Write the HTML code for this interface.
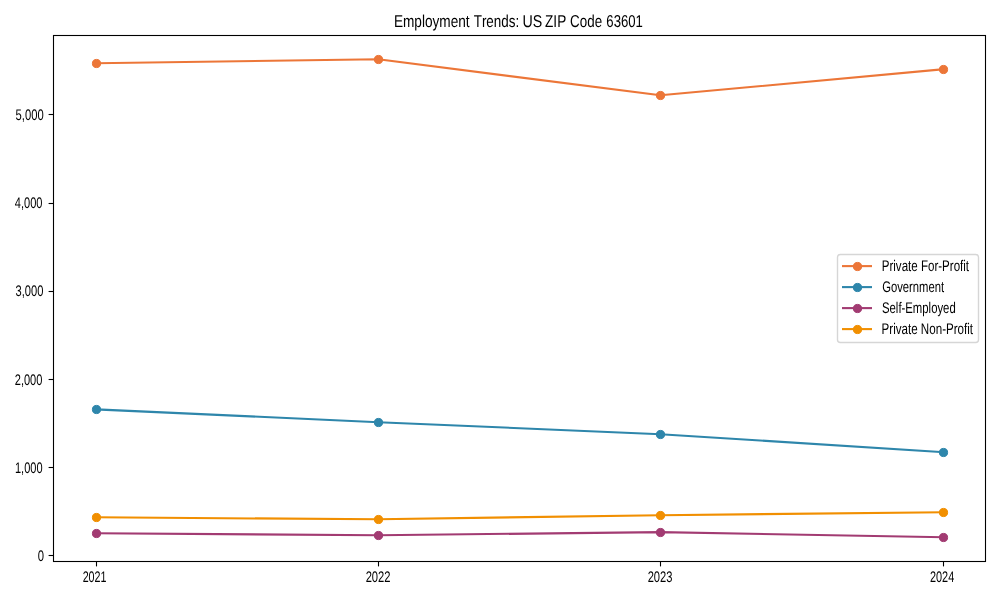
<!DOCTYPE html>
<html><head><meta charset="utf-8"><title>Employment Trends: US ZIP Code 63601</title>
<style>
html,body{margin:0;padding:0;background:#fff;width:1000px;height:600px;overflow:hidden}
svg{display:block;will-change:transform}
text{filter:grayscale(1)}
text{font-family:"Liberation Sans",Arial,sans-serif;font-kerning:none;text-rendering:geometricPrecision;white-space:pre}
</style></head><body>
<svg width="1000" height="600" viewBox="0 0 1000 600">
<rect x="0" y="0" width="1000" height="600" fill="#fff"/>
<text x="393.88" y="27.00" font-size="17.20" textLength="75.72" lengthAdjust="spacingAndGlyphs" fill="#000">Employment</text>
<text x="473.70" y="27.00" font-size="17.20" textLength="45.53" lengthAdjust="spacingAndGlyphs" fill="#000">Trends:</text>
<text x="522.40" y="27.00" font-size="17.20" textLength="19.75" lengthAdjust="spacingAndGlyphs" fill="#000">US</text>
<text x="545.07" y="27.00" font-size="17.20" textLength="21.15" lengthAdjust="spacingAndGlyphs" fill="#000">ZIP</text>
<text x="570.12" y="27.00" font-size="17.20" textLength="31.97" lengthAdjust="spacingAndGlyphs" fill="#000">Code</text>
<text x="606.33" y="27.00" font-size="17.20" textLength="36.61" lengthAdjust="spacingAndGlyphs" fill="#000">63601</text>
<path d="M96.30,63.30 L378.30,59.30 L660.40,95.30 L943.40,69.20" fill="none" stroke="#EC7638" stroke-width="2.1" stroke-linejoin="round" stroke-linecap="square"/>
<circle cx="96.50" cy="63.50" r="4.1" fill="#EC7638" stroke="#EC7638" stroke-width="1.0"/>
<circle cx="378.50" cy="59.50" r="4.1" fill="#EC7638" stroke="#EC7638" stroke-width="1.0"/>
<circle cx="660.50" cy="95.50" r="4.1" fill="#EC7638" stroke="#EC7638" stroke-width="1.0"/>
<circle cx="943.50" cy="69.50" r="4.1" fill="#EC7638" stroke="#EC7638" stroke-width="1.0"/>
<path d="M96.30,409.40 L378.40,422.20 L660.40,434.20 L943.40,452.20" fill="none" stroke="#2E86AB" stroke-width="2.1" stroke-linejoin="round" stroke-linecap="square"/>
<circle cx="96.50" cy="409.50" r="4.1" fill="#2E86AB" stroke="#2E86AB" stroke-width="1.0"/>
<circle cx="378.50" cy="422.50" r="4.1" fill="#2E86AB" stroke="#2E86AB" stroke-width="1.0"/>
<circle cx="660.50" cy="434.50" r="4.1" fill="#2E86AB" stroke="#2E86AB" stroke-width="1.0"/>
<circle cx="943.50" cy="452.50" r="4.1" fill="#2E86AB" stroke="#2E86AB" stroke-width="1.0"/>
<path d="M96.30,533.20 L378.30,535.30 L660.40,532.10 L943.40,537.20" fill="none" stroke="#A23B72" stroke-width="2.1" stroke-linejoin="round" stroke-linecap="square"/>
<circle cx="96.50" cy="533.50" r="4.1" fill="#A23B72" stroke="#A23B72" stroke-width="1.0"/>
<circle cx="378.50" cy="535.50" r="4.1" fill="#A23B72" stroke="#A23B72" stroke-width="1.0"/>
<circle cx="660.50" cy="532.50" r="4.1" fill="#A23B72" stroke="#A23B72" stroke-width="1.0"/>
<circle cx="943.50" cy="537.50" r="4.1" fill="#A23B72" stroke="#A23B72" stroke-width="1.0"/>
<path d="M96.30,517.30 L378.30,519.30 L660.40,515.20 L943.50,512.30" fill="none" stroke="#F18F01" stroke-width="2.1" stroke-linejoin="round" stroke-linecap="square"/>
<circle cx="96.50" cy="517.50" r="4.1" fill="#F18F01" stroke="#F18F01" stroke-width="1.0"/>
<circle cx="378.50" cy="519.50" r="4.1" fill="#F18F01" stroke="#F18F01" stroke-width="1.0"/>
<circle cx="660.50" cy="515.50" r="4.1" fill="#F18F01" stroke="#F18F01" stroke-width="1.0"/>
<circle cx="943.50" cy="512.50" r="4.1" fill="#F18F01" stroke="#F18F01" stroke-width="1.0"/>
<rect x="53.5" y="35.5" width="932.0" height="526.0" fill="none" stroke="#000" stroke-width="1.1"/>
<line x1="48.6" y1="555.5" x2="53.5" y2="555.5" stroke="#000" stroke-width="1.1"/>
<text x="37.86" y="561.00" font-size="15.35" textLength="6.28" lengthAdjust="spacingAndGlyphs" fill="#000">0</text>
<line x1="48.6" y1="467.5" x2="53.5" y2="467.5" stroke="#000" stroke-width="1.1"/>
<text x="14.96" y="473.00" font-size="15.35" textLength="27.57" lengthAdjust="spacingAndGlyphs" fill="#000">1,000</text>
<line x1="48.6" y1="379.5" x2="53.5" y2="379.5" stroke="#000" stroke-width="1.1"/>
<text x="14.74" y="385.00" font-size="15.35" textLength="27.69" lengthAdjust="spacingAndGlyphs" fill="#000">2,000</text>
<line x1="48.6" y1="291.5" x2="53.5" y2="291.5" stroke="#000" stroke-width="1.1"/>
<text x="15.58" y="296.00" font-size="15.35" textLength="27.86" lengthAdjust="spacingAndGlyphs" fill="#000">3,000</text>
<line x1="48.6" y1="203.5" x2="53.5" y2="203.5" stroke="#000" stroke-width="1.1"/>
<text x="14.75" y="208.00" font-size="15.35" textLength="27.69" lengthAdjust="spacingAndGlyphs" fill="#000">4,000</text>
<line x1="48.6" y1="114.5" x2="53.5" y2="114.5" stroke="#000" stroke-width="1.1"/>
<text x="15.55" y="120.00" font-size="15.35" textLength="28.09" lengthAdjust="spacingAndGlyphs" fill="#000">5,000</text>
<line x1="96.5" y1="561.5" x2="96.5" y2="566.4" stroke="#000" stroke-width="1.1"/>
<text x="82.66" y="582.00" font-size="15.35" textLength="23.86" lengthAdjust="spacingAndGlyphs" fill="#000">2021</text>
<line x1="378.5" y1="561.5" x2="378.5" y2="566.4" stroke="#000" stroke-width="1.1"/>
<text x="365.64" y="582.00" font-size="15.35" textLength="24.93" lengthAdjust="spacingAndGlyphs" fill="#000">2022</text>
<line x1="660.5" y1="561.5" x2="660.5" y2="566.4" stroke="#000" stroke-width="1.1"/>
<text x="647.64" y="582.00" font-size="15.35" textLength="24.85" lengthAdjust="spacingAndGlyphs" fill="#000">2023</text>
<line x1="943.5" y1="561.5" x2="943.5" y2="566.4" stroke="#000" stroke-width="1.1"/>
<text x="929.95" y="582.00" font-size="15.35" textLength="24.27" lengthAdjust="spacingAndGlyphs" fill="#000">2024</text>
<rect x="837.5" y="254.5" width="141.0" height="88.0" rx="2.8" ry="2.8" fill="#fff" fill-opacity="0.8" stroke="#d6d6d6" stroke-width="1.39"/>
<line x1="842" y1="266.1" x2="872" y2="266.1" stroke="#EC7638" stroke-width="2.1" stroke-linecap="butt"/>
<circle cx="857.5" cy="266.5" r="4.1" fill="#EC7638" stroke="#EC7638" stroke-width="1.0"/>
<text x="881.75" y="271.00" font-size="15.40" textLength="87.33" lengthAdjust="spacingAndGlyphs" fill="#000">Private For-Profit</text>
<line x1="842" y1="287.1" x2="872" y2="287.1" stroke="#2E86AB" stroke-width="2.1" stroke-linecap="butt"/>
<circle cx="857.5" cy="287.5" r="4.1" fill="#2E86AB" stroke="#2E86AB" stroke-width="1.0"/>
<text x="882.13" y="292.00" font-size="15.40" textLength="61.95" lengthAdjust="spacingAndGlyphs" fill="#000">Government</text>
<line x1="842" y1="308.1" x2="872" y2="308.1" stroke="#A23B72" stroke-width="2.1" stroke-linecap="butt"/>
<circle cx="857.5" cy="308.5" r="4.1" fill="#A23B72" stroke="#A23B72" stroke-width="1.0"/>
<text x="881.99" y="313.00" font-size="15.40" textLength="73.75" lengthAdjust="spacingAndGlyphs" fill="#000">Self-Employed</text>
<line x1="842" y1="329.1" x2="872" y2="329.1" stroke="#F18F01" stroke-width="2.1" stroke-linecap="butt"/>
<circle cx="857.5" cy="329.5" r="4.1" fill="#F18F01" stroke="#F18F01" stroke-width="1.0"/>
<text x="881.55" y="334.00" font-size="15.40" textLength="91.54" lengthAdjust="spacingAndGlyphs" fill="#000">Private Non-Profit</text>
</svg>
</body></html>
